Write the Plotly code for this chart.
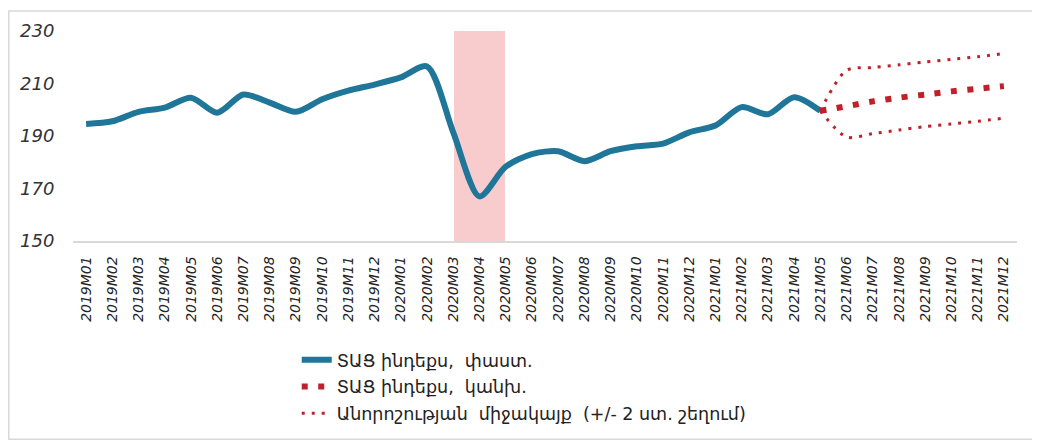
import plotly.graph_objects as go

months = [
    "2019M01", "2019M02", "2019M03", "2019M04", "2019M05", "2019M06",
    "2019M07", "2019M08", "2019M09", "2019M10", "2019M11", "2019M12",
    "2020M01", "2020M02", "2020M03", "2020M04", "2020M05", "2020M06",
    "2020M07", "2020M08", "2020M09", "2020M10", "2020M11", "2020M12",
    "2021M01", "2021M02", "2021M03", "2021M04", "2021M05", "2021M06",
    "2021M07", "2021M08", "2021M09", "2021M10", "2021M11", "2021M12",
]

actual_months = months[:29]
actual = [194.6, 195.6, 199.2, 200.8, 204.6, 198.9, 205.8, 202.7, 199.2,
          204.0, 207.3, 209.6, 212.3, 216.5, 191.4, 167.0, 178.3, 183.1,
          184.2, 180.4, 184.2, 186.1, 187.1, 191.4, 194.0, 201.0, 198.3,
          204.8, 199.6]

forecast_months = months[28:]
forecast = [199.6, 201.3, 203.2, 204.6, 205.8, 207.0, 208.0, 209.0]
upper = [199.6, 215.0, 216.1, 217.1, 218.2, 219.2, 220.2, 221.4]
lower = [199.6, 189.6, 190.9, 192.3, 193.6, 194.6, 195.6, 196.8]

shade_month = ["2020M04"]
shade_top = [230]

y_ticks = [150, 170, 190, 210, 230]

name_actual = "ՏԱՑ ինդեքս,\u00a0 փաստ."
name_fc = "ՏԱՑ ինդեքս,\u00a0 կանխ."
name_band = "Անորոշության\u00a0 միջակայք\u00a0 (+/- 2 ստ. շեղում)"

BLUE = "#1f7698"
RED = "#c0202a"

fig = go.Figure()
fig.add_trace(go.Bar(
    x=shade_month, y=shade_top, width=[1.95],
    marker=dict(color="#f8cbcd", line_width=0),
    showlegend=False, hoverinfo="skip",
))
fig.add_trace(go.Scatter(
    x=actual_months, y=actual, mode="lines", name=name_actual,
    line=dict(color=BLUE, width=6, shape="spline", smoothing=0.8),
    legendgroup="a",
))
fig.add_trace(go.Scatter(
    x=forecast_months, y=forecast, mode="lines", name=name_fc,
    line=dict(color=RED, width=6, dash="6px,10.5px", shape="spline", smoothing=0.8),
    legendgroup="b",
))
fig.add_trace(go.Scatter(
    x=forecast_months, y=upper, mode="lines", name=name_band,
    line=dict(color=RED, width=3, dash="3px,7px", shape="spline", smoothing=0.8),
    legendgroup="c",
))
fig.add_trace(go.Scatter(
    x=forecast_months, y=lower, mode="lines", name=name_band,
    line=dict(color=RED, width=3, dash="3px,7px", shape="spline", smoothing=0.8),
    legendgroup="c", showlegend=False,
))

fig.update_layout(
    width=1032, height=436,
    margin=dict(l=65, r=23, t=21, b=202),
    paper_bgcolor="white", plot_bgcolor="white",
    showlegend=True,
    legend=dict(
        x=0.237, y=-0.48, xanchor="left", yanchor="top",
        orientation="v", tracegroupgap=1,
        font=dict(family="DejaVu Sans", size=17.5, color="#222222"),
        bgcolor="rgba(0,0,0,0)",
    ),
    xaxis=dict(
        type="category", categoryorder="array", categoryarray=months,
        range=[-0.5, len(months) - 0.5],
        showline=True, linecolor="#d9d9d9", linewidth=1.5,
        showgrid=False, zeroline=False,
        tickangle=-90, ticks="outside", ticklen=8, tickcolor="rgba(0,0,0,0)",
        tickfont=dict(family="DejaVu Sans", size=14, color="#222222", style="italic"),
    ),
    yaxis=dict(
        range=[150, 230], tickvals=y_ticks,
        showline=False, showgrid=False, zeroline=False,
        ticks="outside", ticklen=14, tickcolor="rgba(0,0,0,0)",
        tickfont=dict(family="DejaVu Sans", size=18, color="#333333", style="italic"),
    ),
    shapes=[dict(
        type="rect", xref="paper", yref="paper",
        x0=-0.068, x1=1.1, y0=-0.944, y1=1.095,
        line=dict(color="#d9d9d9", width=1.5), fillcolor="rgba(0,0,0,0)",
        layer="below",
    )],
    bargap=0,
)

fig.write_html("out.html")
